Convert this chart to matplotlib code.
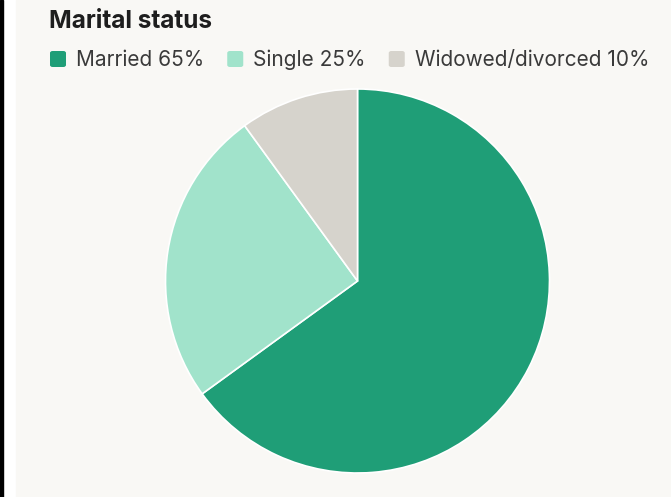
import matplotlib
matplotlib.use("Agg")
import matplotlib.pyplot as plt
from matplotlib.patches import Rectangle, FancyBboxPatch

categories = ["Married", "Single", "Widowed/divorced"]
shares = [65, 25, 10]
colors = ["#1f9e77", "#a1e3cb", "#d6d3cc"]
title = "Marital status"

W, H = 671, 497
fig = plt.figure(figsize=(W / 100, H / 100), dpi=100)
fig.patch.set_facecolor("white")

# frame: black edge on the left, panel in off-white
fig.patches.append(Rectangle((0, 0), 3 / W, 1, transform=fig.transFigure, color="black", zorder=-2))
fig.patches.append(Rectangle((16 / W, 0), 1 - 16 / W, 1, transform=fig.transFigure,
                             color="#f9f8f5", zorder=-2))

plt.rcParams["font.family"] = ["Inter", "DejaVu Sans"]

# pie
cx, cy, r = 357.5, 497 - 281, 192
ax = fig.add_axes([(cx - r) / W, (cy - r) / H, 2 * r / W, 2 * r / H])
ax.pie(shares, colors=colors, startangle=90, counterclock=False,
       wedgeprops=dict(edgecolor="white", linewidth=1.2))
ax.set_xlim(-1, 1)
ax.set_ylim(-1, 1)
ax.set_aspect("equal")
ax.axis("off")

fig.text(49 / W, 469 / H, title, fontsize=17.5, fontweight="bold", color="#1e1e1e",
         va="baseline", ha="left")

# legend drawn by hand
renderer = fig.canvas.get_renderer()
x = 50
sq = 16
for cat, val, col in zip(categories, shares, colors):
    box = FancyBboxPatch((x / W, (497 - 67) / H), sq / W, sq / H,
                         boxstyle="round,pad=0,rounding_size=0.004",
                         transform=fig.transFigure, facecolor=col, edgecolor="none")
    fig.patches.append(box)
    t = fig.text((x + sq + 10) / W, (497 - 66) / H, f"{cat} {val}%", fontsize=15,
                 color="#3a3a3a", va="baseline", ha="left")
    bb = t.get_window_extent(renderer)
    x = bb.x1 + 23

fig.savefig("out.png", dpi=100, facecolor=fig.get_facecolor())
